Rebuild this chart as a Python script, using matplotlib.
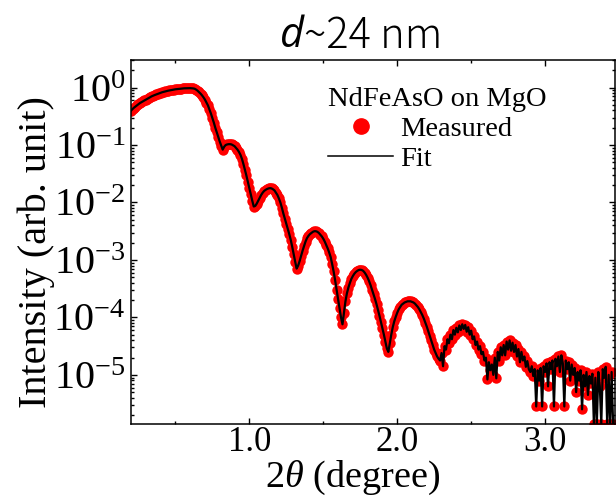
import numpy as np
import matplotlib
matplotlib.use("Agg")
import matplotlib.pyplot as plt
from matplotlib.lines import Line2D
from matplotlib.ticker import FixedLocator, LogLocator, NullFormatter, FuncFormatter

plt.rcParams["font.family"] = ["Liberation Serif", "DejaVu Serif"]
plt.rcParams["mathtext.fontset"] = "custom"
plt.rcParams["mathtext.rm"] = "Liberation Serif"
plt.rcParams["mathtext.it"] = "Liberation Serif:italic"

# XRR scan: 2theta from 0.20 to 3.46 deg in 0.01 deg steps
two_theta = np.round(np.arange(0.20, 3.465, 0.01), 2)

# log10 of measured reflectivity (arb. unit), one row per 0.1 deg
log10_intensity = [
    -0.400, -0.375, -0.350, -0.330, -0.310, -0.290, -0.270, -0.255, -0.240, -0.225,
    -0.210, -0.195, -0.180, -0.165, -0.152, -0.140, -0.130, -0.120, -0.110, -0.100,
    -0.090, -0.082, -0.075, -0.068, -0.061, -0.055, -0.050, -0.045, -0.040, -0.035,
    -0.030, -0.027, -0.024, -0.021, -0.018, -0.015, -0.013, -0.012, -0.011, -0.010,
    -0.010, -0.012, -0.015, -0.020, -0.035, -0.055, -0.080, -0.105, -0.135, -0.170,
    -0.210, -0.260, -0.310, -0.380, -0.450, -0.530, -0.610, -0.700, -0.780, -0.860,
    -0.940, -1.010, -1.080, -1.030, -1.000, -0.990, -0.985, -0.985, -0.990, -1.005,
    -1.020, -1.050, -1.080, -1.120, -1.170, -1.240, -1.330, -1.430, -1.530, -1.640,
    -1.750, -1.860, -1.970, -2.070, -2.060, -2.020, -1.970, -1.920, -1.870, -1.830,
    -1.800, -1.780, -1.765, -1.755, -1.750, -1.755, -1.770, -1.790, -1.830, -1.870,
    -1.930, -2.000, -2.090, -2.190, -2.280, -2.370, -2.460, -2.550, -2.650, -2.770,
    -2.900, -3.030, -3.150, -3.100, -3.020, -2.930, -2.840, -2.760, -2.680, -2.620,
    -2.580, -2.550, -2.530, -2.510, -2.500, -2.500, -2.510, -2.530, -2.560, -2.590,
    -2.630, -2.680, -2.740, -2.800, -2.870, -2.950, -3.070, -3.200, -3.350, -3.520,
    -3.680, -3.840, -4.000, -4.120, -3.920, -3.720, -3.580, -3.480, -3.400, -3.330,
    -3.280, -3.240, -3.210, -3.190, -3.175, -3.170, -3.175, -3.190, -3.220, -3.260,
    -3.310, -3.370, -3.440, -3.520, -3.600, -3.680, -3.770, -3.870, -3.970, -4.080,
    -4.190, -4.300, -4.420, -4.540, -4.600, -4.450, -4.300, -4.170, -4.070, -3.990,
    -3.920, -3.860, -3.820, -3.780, -3.760, -3.740, -3.730, -3.720, -3.720, -3.720,
    -3.730, -3.740, -3.760, -3.790, -3.820, -3.860, -3.910, -3.960, -4.020, -4.090,
    -4.160, -4.240, -4.320, -4.400, -4.480, -4.560, -4.620, -4.680, -4.720, -4.750,
    -4.620, -4.850, -4.500, -4.560, -4.380, -4.450, -4.300, -4.380, -4.220, -4.300,
    -4.180, -4.260, -4.140, -4.220, -4.120, -4.200, -4.130, -4.250, -4.170, -4.300,
    -4.230, -4.380, -4.330, -4.480, -4.420, -4.560, -4.500, -4.640, -4.600, -4.750,
    -4.700, -5.080, -4.780, -4.920, -4.820, -5.000, -4.700, -5.060, -4.600, -4.750,
    -4.520, -4.660, -4.480, -4.660, -4.420, -4.560, -4.400, -4.580, -4.440, -4.600,
    -4.480, -4.680, -4.550, -4.780, -4.600, -4.750, -4.680, -4.860, -4.760, -4.900,
    -4.950, -4.850, -5.020, -4.900, -5.550, -4.920, -5.100, -4.880, -5.550, -4.850,
    -4.950, -4.800, -5.200, -4.780, -4.900, -4.750, -5.550, -4.720, -4.850, -4.680,
    -4.950, -4.660, -4.800, -5.550, -4.750, -4.900, -4.780, -5.100, -4.820, -5.000,
    -4.880, -5.300, -4.950, -5.100, -4.920, -5.600, -5.000, -5.200, -4.950, -5.350,
    -5.020, -5.150, -4.980, -5.860, -5.050, -5.860, -4.950, -5.200, -5.860, -4.900,
    -5.050, -4.860, -5.860, -5.000, -5.860, -4.950, -5.860,
]
measured = 10.0 ** np.array(log10_intensity)
# the fitted curve follows the measured points through the whole scan
fit = measured

x_major = [1.0, 2.0, 3.0]
x_tick_labels = ["1.0", "2.0", "3.0"]
y_major = [1e0, 1e-1, 1e-2, 1e-3, 1e-4, 1e-5]

fig = plt.figure(figsize=(6.16, 4.97), dpi=100)
ax = fig.add_axes([0.2127, 0.1463, 0.785, 0.733])

ax.plot(two_theta, measured, linestyle="none", marker="o", ms=7.5,
        mfc="#ff0000", mec="#ff0000", mew=0, zorder=2)
ax.plot(two_theta, fit, color="black", lw=1.6, zorder=3)

ax.set_yscale("log")
ax.set_xlim(0.20, 3.47)
ax.set_ylim(10 ** -5.86, 10 ** 0.48)

ax.xaxis.set_major_locator(FixedLocator(x_major))
ax.set_xticklabels(x_tick_labels)
ax.xaxis.set_minor_locator(FixedLocator([0.5, 1.5, 2.5]))
ax.yaxis.set_major_locator(FixedLocator(y_major))
ax.yaxis.set_minor_locator(LogLocator(base=10, subs=np.arange(2, 10), numticks=20))
ax.yaxis.set_minor_formatter(NullFormatter())
ax.yaxis.set_major_formatter(
    FuncFormatter(lambda v, p: r"$\mathregular{10^{%d}}$" % round(np.log10(v))))

ax.tick_params(which="both", direction="in", top=True, right=True, width=1.0)
ax.tick_params(which="major", length=4.5)
ax.tick_params(which="minor", length=2.5)
ax.tick_params(axis="x", labelsize=25, pad=1.5)
ax.tick_params(axis="y", labelsize=29, pad=4)
for s in ax.spines.values():
    s.set_linewidth(1.1)

fig.text(353 / 616, 1 - 478 / 497, r"2$\mathit{\theta}$ (degree)",
         ha="center", va="center", fontsize=27.5)
fig.text(36 / 616, 1 - 252 / 497, "Intensity (arb. unit)", rotation=90,
         ha="center", va="center", fontsize=29)

# title: italic d followed by the rest
fig.text(304 / 616, 1 - 36 / 497, "d", ha="right", va="center", fontsize=30,
         family="Open Sans", style="italic")
fig.text(304 / 616, 1 - 36 / 497, "~24 nm", ha="left", va="center", fontsize=30,
         family="Noto Sans CJK JP", fontweight="light")

handles = [Line2D([], [], ls="none", marker="o", ms=11, mfc="#ff0000", mec="#ff0000"),
           Line2D([], [], color="black", lw=1.1)]
leg = ax.legend(handles, ["Measured", "Fit"], title="NdFeAsO on MgO",
                loc="upper left", bbox_to_anchor=(328 / 616, 1 - 87 / 497),
                bbox_transform=fig.transFigure, frameon=False, fontsize=20.5,
                title_fontsize=20.5, handlelength=2.3, handletextpad=0.25,
                labelspacing=0.14, borderaxespad=0, borderpad=0, numpoints=1)
leg._legend_box.align = "left"

fig.savefig("out.png", dpi=100)
